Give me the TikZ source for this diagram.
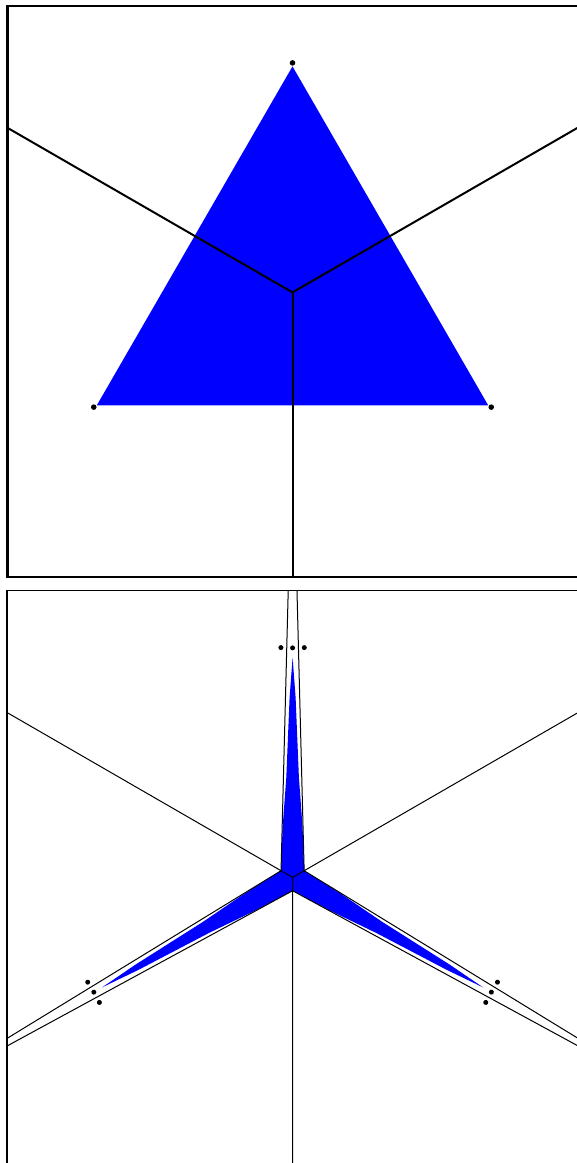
\documentclass[tikz,border=0pt]{standalone}
\usetikzlibrary{calc}
\begin{document}
\begin{tikzpicture}[x=1pt,y=1pt]
\useasboundingbox (0,0) rectangle (577,1163);
\definecolor{fillblue}{RGB}{0,0,255}
\tikzset{
  thickline/.style={line width=2pt},
  thinline/.style={line width=1pt},
  frametop/.style={line width=2.3pt},
  framebot/.style={line width=1.1pt}
}
% ---------------- top panel ----------------
\coordinate (Ct) at (292.5,870.6);
\begin{scope}
  \clip (7.5,586) rectangle (578.5,1157.2);
  \fill[fillblue] ($(Ct)+(90:226)$) -- ($(Ct)+(210:226)$) -- ($(Ct)+(330:226)$) -- cycle;
  \draw[thickline] (Ct) -- ($(Ct)+(150:700)$);
  \draw[thickline] (Ct) -- ($(Ct)+(30:700)$);
  \draw[thickline] (Ct) -- ($(Ct)+(270:700)$);
\end{scope}
\coordinate (pt1) at ($(Ct)+(90:229.5)$);
\coordinate (pt2) at ($(Ct)+(210:229.5)$);
\coordinate (pt3) at ($(Ct)+(330:229.5)$);
\foreach \p in {pt1,pt2,pt3} \fill (\p) circle (2.8);
\draw[frametop] (578.5,1157.2) -- (7.5,1157.2) -- (7.5,586) -- (578.5,586);
% ---------------- bottom panel ----------------
\coordinate (Cb) at (292.6,285.6);
\begin{scope}
  \clip (7,-10) rectangle (580,572.7);
  \foreach \r in {0,120,240} {
    \begin{scope}[shift={(Cb)}, rotate=\r]
      \fill[fillblue] (-11.56,6.68) -- (-10,50) -- (-6.3,100) -- (-3,180) -- (0,220)
        -- (3,180) -- (6.3,100) -- (10,50) -- (11.56,6.68) -- (0,-13.35) -- cycle;
    \end{scope}
  }
  \foreach \r in {0,120,240} {
    \begin{scope}[shift={(Cb)}, rotate=\r]
      \coordinate (va) at (-11.56,6.68);
      \coordinate (vb) at (11.56,6.68);
      \coordinate (apex) at (0,457.8);
      \coordinate (o) at (0,0);
      \coordinate (far) at (150:700);
      \draw[thinline] (va) -- (apex);
      \draw[thinline] (vb) -- (apex);
      \draw[thinline] (o) -- (far);
    \end{scope}
  }
\end{scope}
\foreach \r in {0,120,240} {
  \begin{scope}[shift={(Cb)}, rotate=\r]
    \coordinate (m) at (0,229.5);
    \coordinate (sl) at (-11.7,229.8);
    \coordinate (sr) at (11.7,229.8);
    \fill (m) circle (2.5);
    \fill (sl) circle (2.5);
    \fill (sr) circle (2.5);
  \end{scope}
}
\draw[framebot] (7,-5) -- (7,572.7) -- (580,572.7);
\end{tikzpicture}
\end{document}
